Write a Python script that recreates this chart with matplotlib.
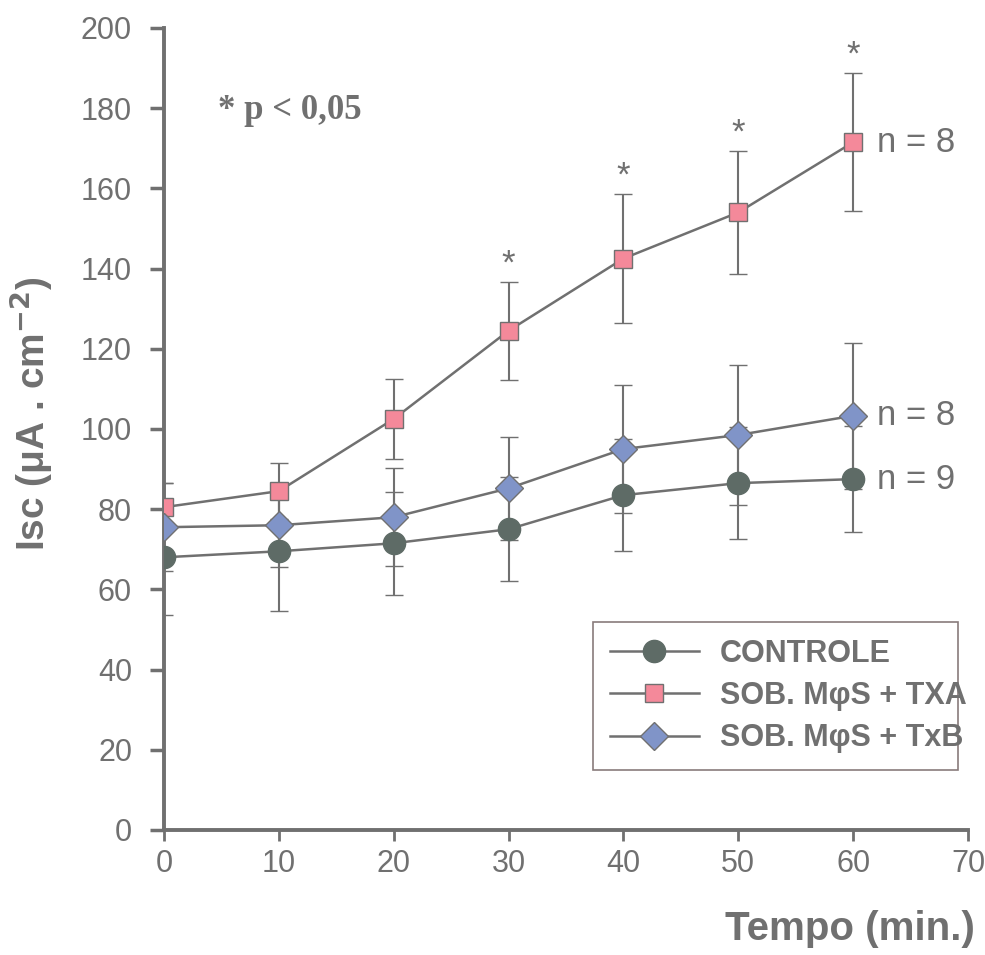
import matplotlib
matplotlib.use("Agg")
import matplotlib.pyplot as plt
from matplotlib.lines import Line2D

# Dados
tempo = [0, 10, 20, 30, 40, 50, 60]
controle = [68, 69.5, 71.5, 75, 83.5, 86.5, 87.5]
controle_ep = [14.5, 15, 12.8, 13, 14, 14, 13.3]
txa = [80.5, 84.5, 102.5, 124.5, 142.5, 154, 171.5]
txa_ep = [6, 7, 10, 12.2, 16, 15.3, 17.2]
txb = [75.5, 76, 78, 85.2, 95, 98.5, 103.3]
txb_ep = [11, 10.3, 12.2, 12.8, 16, 17.5, 18.2]
significativos = [30, 40, 50, 60]
n_labels = ["n = 9", "n = 8", "n = 8"]
legendas = ["CONTROLE", "SOB. M\u03c6S + TXA", "SOB. M\u03c6S + TxB"]

cinza = "#707070"
plt.rcParams["font.family"] = ["Liberation Sans", "DejaVu Sans"]

fig = plt.figure(figsize=(9.85, 9.55), dpi=100)
ax = fig.add_axes([0.1665, 0.1309, 0.8162, 0.8398])

# estilo de cada série
series = [
    (controle, controle_ep, dict(marker="o", markersize=16, markerfacecolor="#5e6b66",
                                 markeredgecolor="#5e6b66")),
    (txa, txa_ep, dict(marker="s", markersize=13, markerfacecolor="#f4899a",
                       markeredgecolor=cinza)),
    (txb, txb_ep, dict(marker="D", markersize=14, markerfacecolor="#8094c8",
                       markeredgecolor=cinza)),
]

handles = []
for valores, ep, mk in series:
    ax.errorbar(tempo, valores, yerr=ep, color=cinza, lw=1.8, ecolor=cinza,
                elinewidth=1.5, capsize=6.5, capthick=1.5, markeredgewidth=1.0,
                zorder=3, **mk)
    handles.append(Line2D([], [], color=cinza, lw=1.8, markeredgewidth=1.0, **mk))

# asteriscos de significância
for t in significativos:
    i = tempo.index(t)
    ax.text(t, txa[i] + txa_ep[i] + 4.5, "*", ha="center", va="center",
            fontsize=25, color=cinza)

ax.text(4.7, 179.5, "* p < 0,05", family="Liberation Serif", fontweight="bold",
        fontsize=25, color=cinza, va="center", ha="left")

# n de cada grupo
for serie, lab in zip([controle, txa, txb], n_labels):
    ax.text(62.1, serie[-1], lab, fontsize=25, color=cinza, va="center", ha="left")

ax.set_xlim(0, 70)
ax.set_ylim(0, 200)
ax.set_xticks(range(0, 71, 10))
ax.set_yticks(range(0, 201, 20))

for s in ["top", "right"]:
    ax.spines[s].set_visible(False)
for s in ["left", "bottom"]:
    ax.spines[s].set_color(cinza)
    ax.spines[s].set_linewidth(2.8)
ax.tick_params(axis="y", direction="out", length=10, width=2.5, color=cinza,
               labelsize=22, labelcolor=cinza, pad=13)
ax.tick_params(axis="x", direction="out", length=8, width=2, color=cinza,
               labelsize=22, labelcolor=cinza, pad=6)

ax.set_ylabel("Isc (\u03bcA . cm$^{\\mathbf{-2}}$)", fontsize=28, fontweight="bold",
              color=cinza)
ax.yaxis.set_label_coords(-0.136, 0.519)
fig.text(0.99, 0.007, "Tempo (min.)", fontsize=29, fontweight="bold", color=cinza,
         ha="right", va="bottom")

leg = ax.legend(handles, legendas, loc="center left",
                bbox_to_anchor=(0.534, 0.072, 0.4536, 0.19), mode="expand",
                fancybox=False, handlelength=2.9, labelspacing=0.4,
                prop={"weight": "bold", "size": 22}, borderpad=0.55,
                handletextpad=0.7, borderaxespad=0)
leg.get_frame().set_edgecolor("#6b5a5a")
leg.get_frame().set_linewidth(1.2)
for t in leg.get_texts():
    t.set_color(cinza)

fig.savefig("out.png", dpi=100)
